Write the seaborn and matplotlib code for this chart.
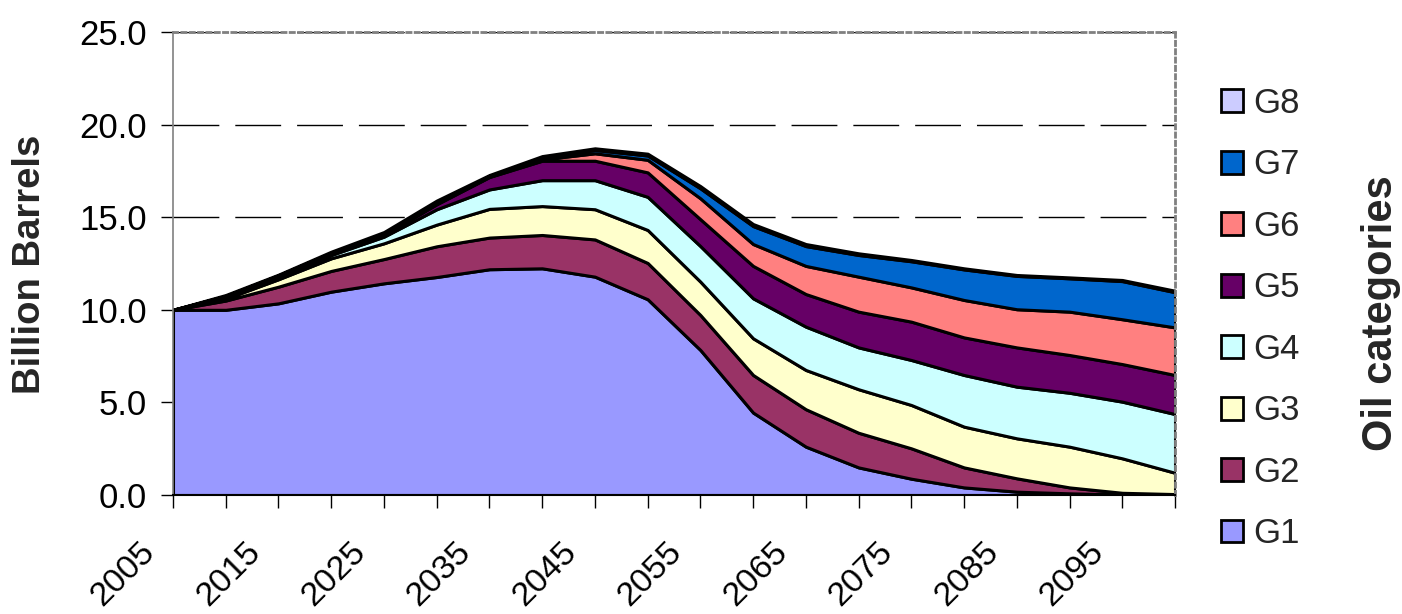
import numpy as np
import pandas as pd
import matplotlib
matplotlib.use("Agg")
import matplotlib.pyplot as plt
import matplotlib.transforms as mtransforms
import seaborn as sns
from matplotlib.patches import Patch

# ---------------- data ----------------
years = list(range(2005, 2101, 5))
categories = ["G1", "G2", "G3", "G4", "G5", "G6", "G7", "G8"]

g1 = [10.00, 10.00, 10.35, 10.98, 11.43, 11.77, 12.19, 12.24, 11.79, 10.57,
      7.83, 4.45, 2.61, 1.49, 0.88, 0.41, 0.18, 0.09, 0.03, 0.00]
g2 = [0.00, 0.50, 0.90, 1.12, 1.31, 1.66, 1.71, 1.80, 2.01, 1.96,
      1.89, 2.03, 2.02, 1.87, 1.64, 1.08, 0.72, 0.32, 0.09, 0.05]
g3 = [0.00, 0.10, 0.40, 0.68, 0.85, 1.17, 1.55, 1.56, 1.63, 1.78,
      1.80, 1.98, 2.12, 2.35, 2.34, 2.20, 2.16, 2.20, 1.86, 1.15]
g4 = [0.00, 0.05, 0.10, 0.18, 0.36, 0.83, 1.05, 1.40, 1.57, 1.79,
      1.92, 2.16, 2.34, 2.26, 2.43, 2.79, 2.79, 2.91, 3.06, 3.17]
g5 = [0.00, 0.05, 0.05, 0.04, 0.09, 0.27, 0.67, 1.05, 1.05, 1.32,
      1.45, 1.75, 1.76, 1.93, 2.07, 2.03, 2.12, 2.04, 2.03, 2.11]
g6 = [0.00, 0.02, 0.03, 0.05, 0.04, 0.05, 0.03, 0.07, 0.40, 0.68,
      1.13, 1.18, 1.52, 1.89, 1.85, 2.02, 2.06, 2.34, 2.42, 2.57]
g7 = [0.00, 0.03, 0.03, 0.03, 0.04, 0.05, 0.03, 0.08, 0.18, 0.23,
      0.54, 0.97, 1.07, 1.17, 1.41, 1.65, 1.80, 1.80, 2.06, 1.90]
g8 = [0.00, 0.05, 0.04, 0.06, 0.08, 0.10, 0.05, 0.10, 0.09, 0.10,
      0.12, 0.11, 0.11, 0.09, 0.07, 0.06, 0.05, 0.05, 0.06, 0.08]

series = [g1, g2, g3, g4, g5, g6, g7, g8]
colors = {"G1": "#9999FF", "G2": "#993366", "G3": "#FFFFCC", "G4": "#CCFFFF",
          "G5": "#660066", "G6": "#FF8080", "G7": "#0066CC", "G8": "#CCCCFF"}
y_ticks = [0, 5, 10, 15, 20, 25]
x_labels = [str(y) if i % 2 == 0 else "" for i, y in enumerate(years)]

# ---------------- style ----------------
sns.set_theme(style="white")
plt.rcParams["font.family"] = ["Liberation Sans", "DejaVu Sans"]

rows = []
for cat, vals in zip(categories, series):
    for yr, v in zip(years, vals):
        rows.append((yr, cat, v))
df = pd.DataFrame(rows, columns=["year", "category", "value"])

W, H = 1402, 614
fig = plt.figure(figsize=(W / 100, H / 100), dpi=100)
ax = fig.add_axes([173 / W, 119 / H, 1002 / W, 463 / H])

# dashed gridlines behind the areas
for yv in [5, 10, 15, 20, 25]:
    ax.axhline(yv, color="black", lw=1.0, dashes=(33, 11.5), zorder=0.5)

step = years[1] - years[0]
sns.histplot(data=df, x="year", weights="value", hue="category",
             hue_order=categories[::-1], palette=colors, multiple="stack",
             element="poly", binwidth=step,
             binrange=(years[0] - step / 2, years[-1] + step / 2),
             fill=True, alpha=1, edgecolor="black", linewidth=2.2,
             legend=False, ax=ax)

ax.set_xlim(years[0], years[-1])
ax.set_ylim(0, 25)
ax.set_xlabel("")
ax.set_ylabel("")

ax.set_yticks(y_ticks)
ax.set_yticklabels([f"{v:.1f}" for v in y_ticks])
ax.set_xticks(years)
ax.set_xticklabels(x_labels, rotation=45, ha="right", rotation_mode="anchor")

ax.tick_params(axis="both", which="major", direction="out", length=9,
               width=1, color="black", labelsize=25, labelcolor="black",
               bottom=True, left=True)
ax.tick_params(axis="x", labelsize=24.5, pad=10)
ax.tick_params(axis="y", pad=10)

for side in ["top", "right"]:
    ax.spines[side].set_color("#808080")
    ax.spines[side].set_linewidth(2)
    ax.spines[side].set_linestyle((0, (1.5, 1.5)))
ax.spines["left"].set_color("#808080")
ax.spines["left"].set_linewidth(1.2)
ax.spines["bottom"].set_color("black")
ax.spines["bottom"].set_linewidth(1.5)
for s in ax.spines.values():
    s.set_zorder(3)

fig.text(30 / W, 1 - 264 / H, "Billion Barrels", rotation=90, ha="center",
         va="center", fontsize=27.5, fontweight="bold")
fig.text(1381 / W, 1 - 313 / H, "Oil categories", rotation=90, ha="center",
         va="center", fontsize=30, fontweight="bold")

handles = [Patch(facecolor=colors[c], edgecolor="black", linewidth=2)
           for c in categories[::-1]]
fig.legend(handles, categories[::-1], loc="upper left",
           bbox_to_anchor=(1221 / W, 1 - 87 / H), frameon=False, fontsize=25,
           handlelength=0.63, handleheight=0.63, handletextpad=0.3,
           labelspacing=0.82, borderpad=0, borderaxespad=0)

# shift rotated year labels down-left of their ticks, keeping them inside the figure
fig.canvas.draw()
first = ax.get_xticklabels()[0]
bb = first.get_window_extent(renderer=fig.canvas.get_renderer())
target_right, target_bottom = 161, 2
dx = (target_right - bb.x1) / fig.dpi
dy = (target_bottom - bb.y0) / fig.dpi
offset = mtransforms.ScaledTranslation(dx, dy, fig.dpi_scale_trans)
for lab in ax.get_xticklabels():
    lab.set_transform(lab.get_transform() + offset)

fig.savefig("out.png", dpi=100)
